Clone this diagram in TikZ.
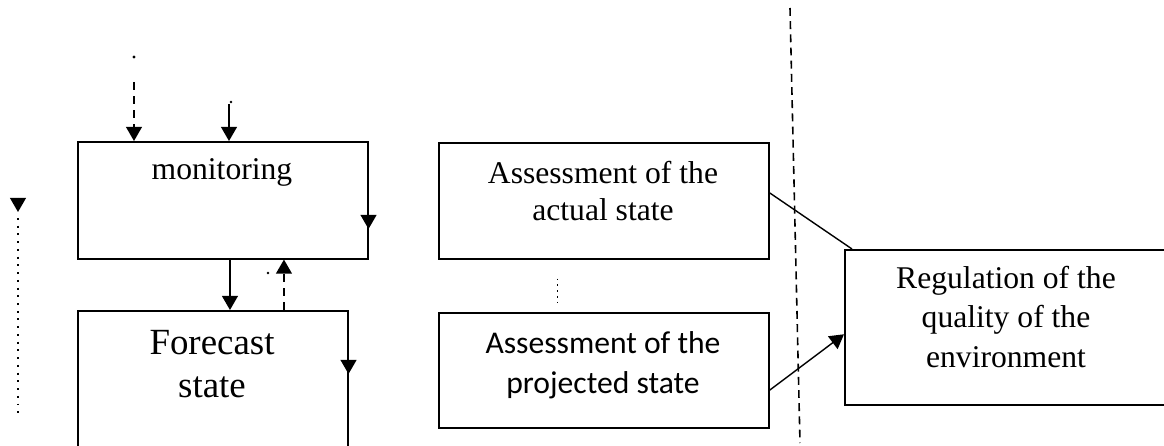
\documentclass[tikz,border=0pt]{standalone}
\usepackage{fontspec}
\setmainfont{Liberation Serif}
\newfontfamily\calibri{Carlito}
\usetikzlibrary{arrows.meta}

\begin{document}
\begin{tikzpicture}[x=0.02cm, y=-0.02cm,
        box/.style={draw, line width=0.9pt, inner sep=0pt, anchor=north west},
        txt/.style={align=center, font=\fontsize{18}{22.7}\selectfont},
        arr/.style={-{Triangle[width=9pt,length=8pt]}, line width=0.9pt},
        dsh/.style={dash pattern=on 4.5pt off 3.5pt, line width=0.8pt},
        dots/.style={dash pattern=on 1.1pt off 3.3pt, line width=1.1pt}]
        \clip (0,0) rectangle (1164,446);
        % boxes
        \node [box, minimum width=5.8cm, minimum height=2.34cm] (mon) at (77,141) {};
        \node [box, minimum width=5.4cm, minimum height=3cm] (fore) at (77,310) {};
        \node [box, minimum width=6.6cm, minimum height=2.32cm] (act) at (438,142) {};
        \node [box, minimum width=6.6cm, minimum height=2.3cm] (proj) at (438,312) {};
        \node [box, minimum width=6.6cm, minimum height=3.1cm] (reg) at (844,249) {};
        \node [txt, anchor=base] (montxt) at (222,180) {monitoring};
        \node [txt, font=\fontsize{21}{24.4}\selectfont] (foretxt) at (212,364) {Forecast\\state};
        \node [txt, font=\fontsize{18}{21.5}\selectfont] (acttxt) at (603,191) {Assessment of the\\actual state};
        \node [txt, font=\calibri\fontsize{18}{22.7}\selectfont] (projtxt) at (603,365) {Assessment of the\\projected state};
        \node [txt] (regtxt) at (1006,317) {Regulation of the\\quality of the\\environment};
        % inputs of monitoring
        \coordinate (in1) at (134,82);
        \coordinate (in2) at (229,104);
        \draw [arr, dsh] (in1) -- (in1 |- mon.north);
        \draw [arr] (in2) -- (in2 |- mon.north);
        \fill (134,57) circle (0.9pt);
        \fill (231,102) circle (0.8pt);
        \fill (268,273) circle (0.8pt);
        % marks on the box edges
        \draw [arr] (mon.north east) ++(0,70) -- ++(0,18);
        \draw [arr] (fore.north east) ++(0,46) -- ++(0,18);
        % between monitoring and forecast
        \draw [arr] ([xshift=3.06cm]mon.south west) -- ([xshift=3.06cm]fore.north west);
        \draw [arr, dsh] ([xshift=4.14cm]fore.north west) -- ([xshift=4.14cm]mon.south west);
        % left dotted line
        \coordinate (ltop) at (18,198);
        \coordinate (lbot) at (18,418);
        \draw [arr] (ltop) -- ++(0,14);
        \draw [dots] ([yshift=-0.4cm]ltop) -- (lbot);
        % assessments to regulation
        \draw [dots, line width=0.8pt, dash pattern=on 0.9pt off 2.4pt] ([shift={(-46,19)}]act.south) -- ([shift={(-46,-9)}]proj.north);
        \draw [line width=0.8pt] ([shift={(0,-8)}]act.east) -- ([shift={(8,0)}]reg.north west);
        \draw [arr, line width=0.8pt] ([shift={(0,20)}]proj.east) -- ([shift={(0,7)}]reg.west);
        % border line
        \coordinate (vtop) at (790,8);
        \coordinate (vbot) at (800,443);
        \draw [dash pattern=on 4.5pt off 3pt, line width=0.9pt] (vtop) -- (vbot);
\end{tikzpicture}
\end{document}
